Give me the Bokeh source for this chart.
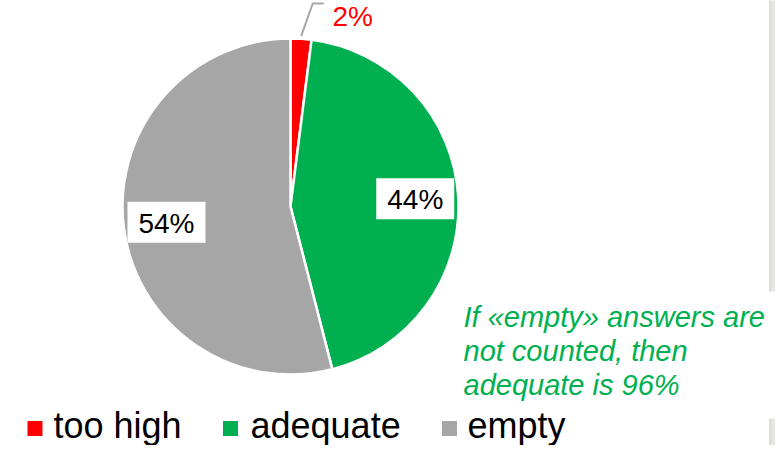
import math
from bokeh.plotting import figure
from bokeh.models import Range1d, ColumnDataSource
from bokeh.core.properties import value
from bokeh.embed import file_html
from bokeh.resources import INLINE

# ---- data ----
categories = ["too high", "adequate", "empty"]
shares = [2, 44, 54]
colors = ["#ff0000", "#00b050", "#a6a6a6"]
pct_labels = ["2%", "44%", "54%"]
note_lines = ["If «empty» answers are", "not counted, then", "adequate is 96%"]

W, H = 775, 445


def Y(ref_y):
    return H - ref_y


p = figure(width=W, height=H, output_backend="svg", toolbar_location=None,
           x_range=Range1d(0, W), y_range=Range1d(0, H),
           min_border=0, outline_line_color=None, background_fill_color="white")
p.axis.visible = False
p.grid.visible = False

cx, cy, R = 290, Y(206), 168
total = sum(shares)
starts, ends, mids = [], [], []
acc = 0
for s in shares:
    a0 = math.pi / 2 - 2 * math.pi * acc / total
    acc += s
    a1 = math.pi / 2 - 2 * math.pi * acc / total
    starts.append(a0)
    ends.append(a1)
    mids.append((a0 + a1) / 2)

src = ColumnDataSource(dict(start=starts, end=ends, color=colors))
p.wedge(x=cx, y=cy, radius=R, start_angle="start", end_angle="end",
        direction="clock", fill_color="color", line_color="white", line_width=2.5,
        source=src)

# right-side gray panels
p.quad(left=[769, 769], right=[790, 790], top=[Y(-2), Y(418)], bottom=[Y(291), Y(460)],
       fill_color="#e6e6e0", line_color=None)
p.segment(x0=[769.5, 769.5], y0=[Y(-2), Y(418)], x1=[769.5, 769.5], y1=[Y(291), Y(460)],
          line_color="#d6d6d0", line_width=1.5)

# inside labels with white boxes
r_lab = 125
lx = [cx + r_lab * math.cos(mids[i]) for i in (1, 2)]
ly = [cy + r_lab * math.sin(mids[i]) for i in (1, 2)]
p.rect(x=lx, y=ly, width=78, height=41, fill_color="white", line_color=None)
p.text(x=lx, y=[v - 1 for v in ly], text=[pct_labels[1], pct_labels[2]],
       text_align="center", text_baseline="middle",
       text_font=value("Liberation Sans"), text_font_size="28px", text_color="black")

# outside label for small slice with leader line
m0 = mids[0]
ex, ey = cx + (R + 3) * math.cos(m0), cy + (R + 3) * math.sin(m0)
p.line(x=[ex, ex + 11.5, ex + 22.5], y=[ey, Y(3), Y(3)], line_color="#a6a6a6", line_width=2)
p.text(x=[332], y=[Y(16)], text=[pct_labels[0]], text_align="left",
       text_baseline="middle", text_font=value("Liberation Sans"),
       text_font_size="28px", text_color=colors[0])

# note
p.text(x=[463] * 3, y=[Y(316), Y(350), Y(384)], text=note_lines,
       text_align="left", text_baseline="middle",
       text_font=value("Liberation Sans"), text_font_style="italic",
       text_font_size="29px", text_color="#00b050")

# legend (kept inside the figure's 445px height)
leg_sq_x = [34.5, 230, 449]
leg_tx = [53, 250, 467]
p.scatter(x=leg_sq_x, y=[Y(428)] * 3, marker="square", size=15,
          fill_color=colors, line_color=None)
p.text(x=leg_tx, y=[Y(425)] * 3, text=categories, text_align="left",
       text_baseline="middle", text_font=value("Liberation Sans"),
       text_font_size="36px", text_color="black")

open("out.html", "w").write(file_html(p, INLINE))
